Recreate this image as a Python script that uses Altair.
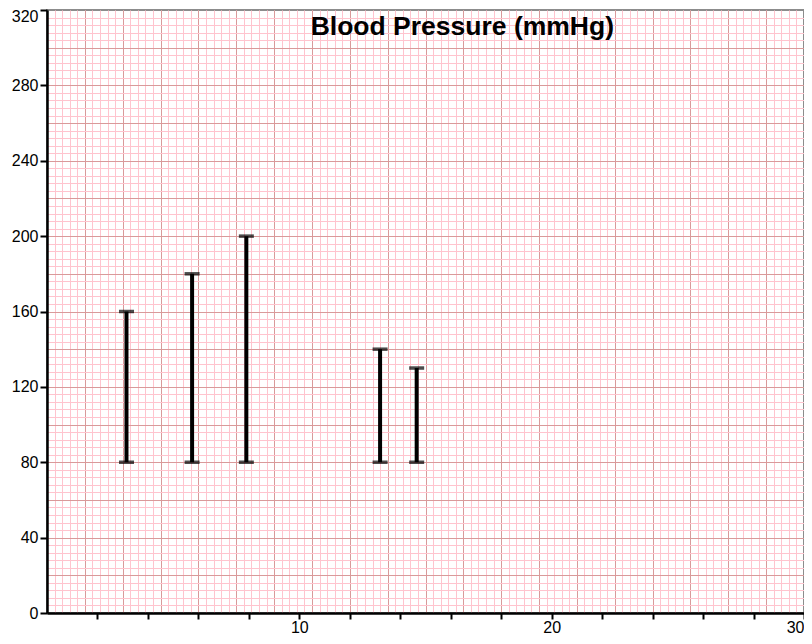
import altair as alt
import pandas as pd

# Data
times = [3.15, 5.75, 7.9, 13.2, 14.65]
diastolic = [80, 80, 80, 80, 80]
systolic = [160, 180, 200, 140, 130]
title_text = ["Blood Pressure (mmHg)"]

df = pd.DataFrame({"t": times, "low": diastolic, "high": systolic})
tdf = pd.DataFrame({"label": title_text})

xs = alt.Scale(domain=[0, 30], nice=False, zero=False)
ys = alt.Scale(domain=[0, 320], nice=False)

minor_x = [round(i * 0.3, 2) for i in range(1, 100)]
major_x = [round(i * 1.5, 2) for i in range(1, 20)]
minor_y = [i * 4 for i in range(1, 80)]
major_y = [i * 20 for i in range(1, 16)]
tick_x = [i * 2 for i in range(1, 16)]
tick_y = [i * 40 for i in range(9)]

base = alt.Chart(df)


def grid_layer(xv, yv, color):
    return base.mark_point(opacity=0).encode(
        x=alt.X("t:Q", scale=xs, axis=alt.Axis(values=xv, grid=True, gridColor=color, gridWidth=1,
                                               labels=False, ticks=False, domain=False,
                                               orient="bottom", title=None)),
        y=alt.Y("low:Q", scale=ys, axis=alt.Axis(values=yv, grid=True, gridColor=color, gridWidth=1,
                                                 labels=False, ticks=False, domain=False,
                                                 orient="left", title=None)),
    )


minor = grid_layer(minor_x, minor_y, "#ffc4ce")
major = grid_layer(major_x, major_y, "#d99a9a")

axis_common = dict(grid=False, title=None, domainColor="black", domainWidth=2.5,
                   tickColor="black", tickWidth=2, labelFontSize=16,
                   labelColor="black", labelFont="Liberation Sans")

stems = base.mark_rule(color="black", strokeWidth=4).encode(
    x=alt.X("t:Q", scale=xs, axis=alt.Axis(values=tick_x, orient="bottom", tickSize=6, labelPadding=0,
                                           labelExpr="datum.value % 10 == 0 ? datum.label : ''",
                                           labelFlush=True, **axis_common)),
    y=alt.Y("low:Q", scale=ys, axis=alt.Axis(values=tick_y, orient="left", labelFlush=False,
                                             tickSize=7, labelPadding=2,
                                             labelOffset={"condition": {"test": "datum.value == 320", "value": 6},
                                                          "value": 0},
                                             **axis_common)),
    y2="high:Q",
)

cap_low = base.mark_tick(color="black", thickness=3.5, size=15, orient="horizontal").encode(
    x=alt.X("t:Q", scale=xs, axis=None),
    y=alt.Y("low:Q", scale=ys, axis=None),
)
cap_high = base.mark_tick(color="black", thickness=3.5, size=15, orient="horizontal").encode(
    x=alt.X("t:Q", scale=xs, axis=None),
    y=alt.Y("high:Q", scale=ys, axis=None),
)

title = alt.Chart(tdf).mark_text(fontSize=26.5, fontWeight="bold", font="Liberation Sans",
                                 color="black", align="center", baseline="alphabetic").encode(
    x=alt.X(datum=16.46, scale=xs, axis=None),
    y=alt.Y(datum=306.5, scale=ys, axis=None),
    text="label:N",
)

chart = alt.layer(minor, major, stems, cap_low, cap_high, title).resolve_axis(
    x="independent", y="independent"
).properties(
    width=757,
    height=603,
    autosize=alt.AutoSizeParams(type="none"),
    padding={"left": 39, "top": 2, "right": 0, "bottom": 23},
).configure_view(stroke="#8c8c8c", strokeWidth=2)

chart.save("out.html", embed_options={"renderer": "svg", "actions": False})
